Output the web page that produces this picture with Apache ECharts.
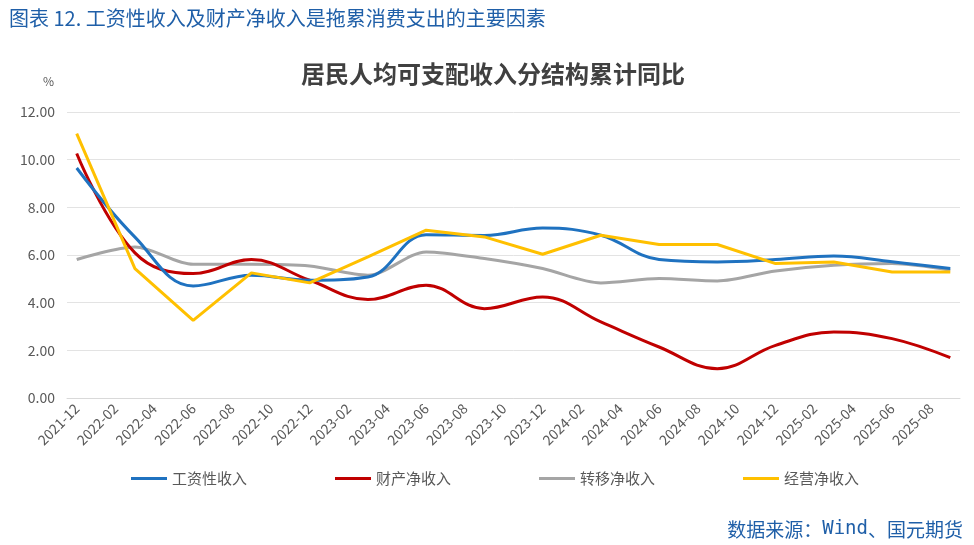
<!DOCTYPE html>
<html>
<head>
<meta charset="utf-8">
<script src="https://cdn.jsdelivr.net/npm/echarts@6/dist/echarts.min.js"></script>
<style>
  html, body { margin: 0; padding: 0; background: #fff; }
  #main { width: 974px; height: 545px; }
</style>
</head>
<body>
<div id="main"></div>
<script>
// 月度类目轴（每两个月显示一个标签）
var months = [
  '2021-12', '2022-01', '2022-02', '2022-03', '2022-04', '2022-05', '2022-06', '2022-07',
  '2022-08', '2022-09', '2022-10', '2022-11', '2022-12', '2023-01', '2023-02', '2023-03',
  '2023-04', '2023-05', '2023-06', '2023-07', '2023-08', '2023-09', '2023-10', '2023-11',
  '2023-12', '2024-01', '2024-02', '2024-03', '2024-04', '2024-05', '2024-06', '2024-07',
  '2024-08', '2024-09', '2024-10', '2024-11', '2024-12', '2025-01', '2025-02', '2025-03',
  '2025-04', '2025-05', '2025-06', '2025-07', '2025-08', '2025-09'
]
// 季度数据点
var quarters = [
  '2021-12', '2022-03', '2022-06', '2022-09', '2022-12', '2023-03', '2023-06', '2023-09',
  '2023-12', '2024-03', '2024-06', '2024-09', '2024-12', '2025-03', '2025-06', '2025-09'
]
var wage = [9.65, 6.75, 4.70, 5.15, 4.94, 5.08, 6.85, 6.82, 7.13, 6.83, 5.81, 5.71, 5.81, 5.96, 5.72, 5.43]
var property = [10.26, 6.09, 5.22, 5.81, 4.94, 4.13, 4.73, 3.75, 4.24, 3.19, 2.14, 1.23, 2.21, 2.77, 2.49, 1.69]
var transfer = [5.81, 6.34, 5.61, 5.61, 5.54, 5.15, 6.13, 5.85, 5.43, 4.83, 5.01, 4.91, 5.33, 5.57, 5.64, 5.36]
var business = [11.09, 5.43, 3.26, 5.25, 4.83, 5.92, 7.04, 6.76, 6.03, 6.83, 6.44, 6.44, 5.64, 5.71, 5.29, 5.29]
var yTicks = [0, 2, 4, 6, 8, 10, 12]

function pairs(vals) {
  return quarters.map(function(q, i) { return [q, vals[i]] })
}

var chart = echarts.init(document.getElementById('main'))
var font = 'Noto Sans CJK SC'

var option = {
  backgroundColor: '#fff',
  textStyle: { fontFamily: font },
  title: [
    {
      text: '图表 12. 工资性收入及财产净收入是拖累消费支出的主要因素',
      left: 4, top: 3,
      textStyle: { color: '#1f5fa8', fontSize: 20, fontWeight: 'normal', fontFamily: font }
    },
    {
      text: '居民人均可支配收入分结构累计同比',
      left: 488, top: 57, textAlign: 'center',
      textStyle: { color: '#404040', fontSize: 24, fontWeight: 'bold', fontFamily: font }
    },
    {
      text: '%',
      left: 38, top: 70,
      textStyle: { color: '#595959', fontSize: 12, fontWeight: 'normal', fontFamily: font }
    },
    {
      text: '数据来源：{m|Wind}、国元期货',
      right: 6, top: 515,
      textStyle: {
        color: '#1f5fa8', fontSize: 19, fontWeight: 'normal', fontFamily: font,
        rich: { m: { fontFamily: 'DejaVu Sans Mono', fontSize: 19, color: '#1f5fa8' } }
      }
    }
  ],
  legend: {
    left: 126, top: 466,
    itemWidth: 36, itemHeight: 3, itemGap: 88,
    icon: 'rect',
    textStyle: { color: '#595959', fontSize: 15, fontFamily: font },
    data: ['工资性收入', '财产净收入', '转移净收入', '经营净收入']
  },
  grid: { left: 67, right: 14, top: 112, bottom: 147 },
  xAxis: {
    type: 'category',
    data: months,
    boundaryGap: true,
    axisLine: { lineStyle: { color: '#d9d9d9' } },
    axisTick: { interval: 1, length: 5, lineStyle: { color: '#d9d9d9' } },
    axisLabel: {
      interval: 1, rotate: 45, color: '#595959', fontSize: 14, margin: 8,
      fontFamily: font
    }
  },
  yAxis: {
    type: 'value',
    min: yTicks[0], max: yTicks[yTicks.length - 1], interval: 2,
    axisLine: { show: false },
    axisTick: { show: false },
    splitLine: { lineStyle: { color: '#e3e3e3' } },
    axisLabel: {
      color: '#595959', fontSize: 14, margin: 12, fontFamily: font,
      formatter: function(v) { return v.toFixed(2) }
    }
  },
  series: [
    {
      name: '工资性收入', type: 'line', smooth: 0.4, showSymbol: false,
      color: '#1f72c0', lineStyle: { width: 3 }, z: 3,
      data: pairs(wage)
    },
    {
      name: '财产净收入', type: 'line', smooth: 0.4, showSymbol: false,
      color: '#c00000', lineStyle: { width: 3 }, z: 2,
      data: pairs(property)
    },
    {
      name: '转移净收入', type: 'line', smooth: 0.3, showSymbol: false,
      color: '#a5a5a5', lineStyle: { width: 3 }, z: 1,
      data: pairs(transfer)
    },
    {
      name: '经营净收入', type: 'line', smooth: false, showSymbol: false,
      color: '#ffc000', lineStyle: { width: 3 }, z: 4,
      data: pairs(business)
    }
  ]
}

chart.setOption(option)
</script>
</body>
</html>
